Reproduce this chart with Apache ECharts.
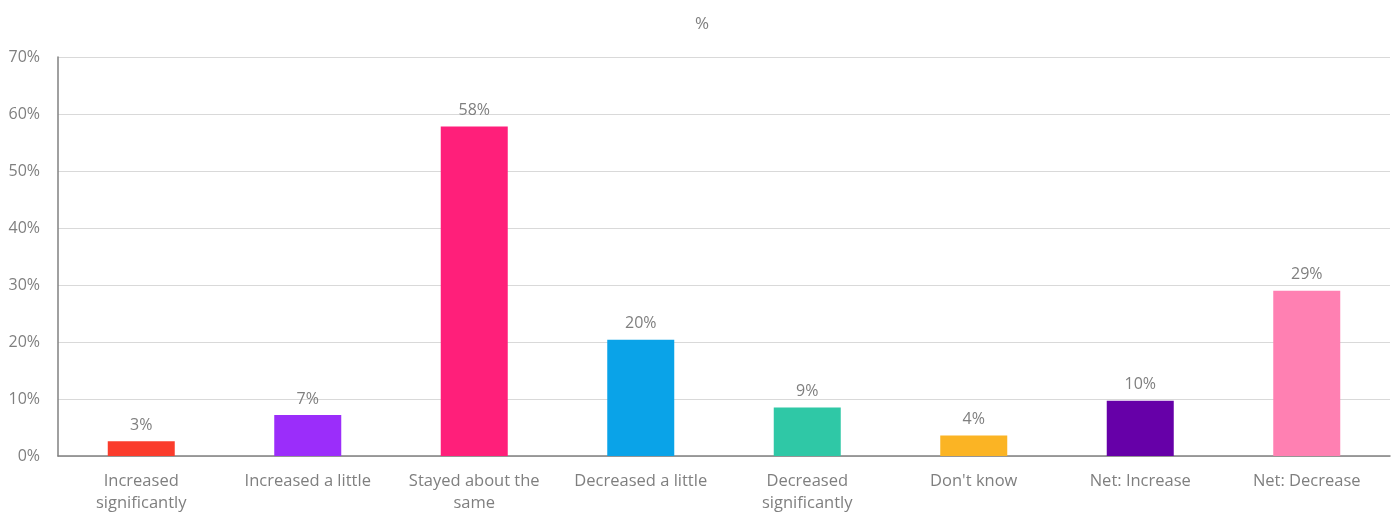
<!DOCTYPE html>
<html>
<head>
<meta charset="utf-8">
<script src="https://cdn.jsdelivr.net/npm/echarts@6/dist/echarts.min.js"></script>
<style>
html,body{margin:0;padding:0;background:#fff;}
#chart{width:1392px;height:514px;}
</style>
</head>
<body>
<div id="chart"></div>
<script>
const categories = ["Increased\nsignificantly", "Increased a little", "Stayed about the\nsame", "Decreased a little", "Decreased\nsignificantly", "Don't know", "Net: Increase", "Net: Decrease"];
const values = [2.6, 7.2, 57.8, 20.4, 8.5, 3.6, 9.7, 29.0];
const colors = ["#FA3C2C", "#9B2DFA", "#FF1F7A", "#0AA3E8", "#2FC8A6", "#FBB424", "#6600A8", "#FF80B2"];
const yTicks = [0, 10, 20, 30, 40, 50, 60, 70];

const chart = echarts.init(document.getElementById('chart'));
const font = "'Open Sans', Lato, sans-serif";
chart.setOption({
  backgroundColor: '#fff',
  animation: false,
  title: {
    text: '%', left: 690, top: 11,
    textStyle: { color: '#7f7f7f', fontSize: 17, fontWeight: 'normal', fontFamily: font }
  },
  grid: { left: 58, right: 2, top: 57, bottom: 55, containLabel: false },
  xAxis: {
    type: 'category',
    data: categories,
    axisLine: { lineStyle: { color: '#808080', width: 1.5 } },
    axisTick: { show: false },
    axisLabel: { color: '#7f7f7f', fontSize: 16.5, fontFamily: font, lineHeight: 22, margin: 14, interval: 0 }
  },
  yAxis: {
    type: 'value',
    min: yTicks[0], max: yTicks[yTicks.length - 1], interval: 10,
    axisLine: { show: true, lineStyle: { color: '#808080', width: 1.5 } },
    axisTick: { show: false },
    splitLine: { lineStyle: { color: '#d9d9d9' } },
    axisLabel: { color: '#7f7f7f', fontSize: 16, fontFamily: font, margin: 18, formatter: v => v + '%' }
  },
  series: [{
    type: 'bar',
    barWidth: 67,
    data: values.map((v, i) => ({ value: v, itemStyle: { color: colors[i] } })),
    label: {
      show: true, position: 'top', distance: 8,
      color: '#7f7f7f', fontSize: 16, fontFamily: font,
      formatter: p => Math.round(p.value) + '%'
    }
  }]
});
</script>
</body>
</html>
